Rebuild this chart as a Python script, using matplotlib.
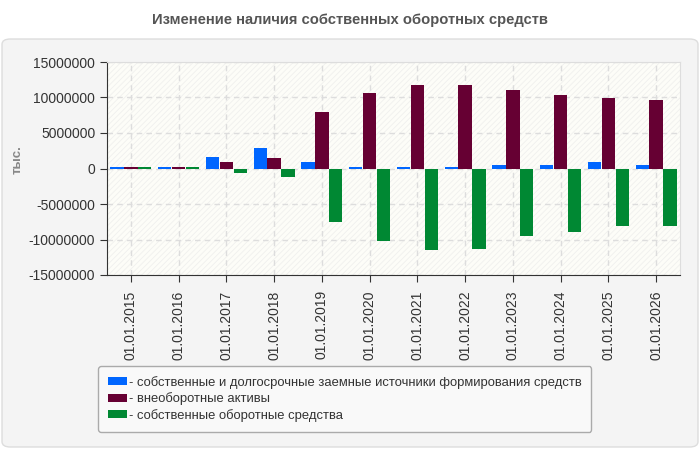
import matplotlib
matplotlib.use("Agg")
import matplotlib.pyplot as plt
import numpy as np
from matplotlib.patches import FancyBboxPatch

plt.rcParams['font.family'] = ['Liberation Sans', 'DejaVu Sans']
plt.rcParams['hatch.linewidth'] = 0.6

# данные
dates = ["01.01.2015", "01.01.2016", "01.01.2017", "01.01.2018", "01.01.2019", "01.01.2020",
         "01.01.2021", "01.01.2022", "01.01.2023", "01.01.2024", "01.01.2025", "01.01.2026"]
istochniki = [250000, 250000, 1650000, 2920000, 940000, 250000,
              250000, 250000, 520000, 520000, 940000, 520000]
vneob_aktivy = [250000, 250000, 940000, 1500000, 8000000, 10670000,
                11800000, 11800000, 11100000, 10390000, 9970000, 9680000]
sos = [250000, 250000, -660000, -1220000, -7570000, -10250000,
       -11500000, -11380000, -9540000, -8980000, -8130000, -8130000]

series_labels = ["- собственные и долгосрочные заемные источники формирования средств",
                 "- внеоборотные активы",
                 "- собственные оборотные средства"]
colors = ["#0066ff", "#660033", "#008833"]

fig = plt.figure(figsize=(7, 4.5), dpi=100)
fig.patch.set_facecolor("white")

# серая панель
panel = FancyBboxPatch((2 / 700, 3 / 450), 696 / 700, 408 / 450,
                       boxstyle="round,pad=0,rounding_size=0.012",
                       transform=fig.transFigure, facecolor="#f4f4f4",
                       edgecolor="#dddddd", linewidth=1, zorder=-10)
fig.patches.append(panel)

fig.text(0.5, 1 - 20 / 450, "Изменение наличия собственных оборотных средств",
         ha="center", va="center", fontsize=10.6, fontweight="bold", color="#555555")

ax = fig.add_axes([107 / 700, 1 - 275 / 450, 573 / 700, 213 / 450])
ax.set_facecolor("#fdfdf8")
ax.patch.set_hatch("//////")
ax.patch.set_edgecolor("#f0f0ee")
ax.patch.set_linewidth(0)

x = np.arange(len(dates))
w = 0.28
for i, (vals, c, lab) in enumerate(zip([istochniki, vneob_aktivy, sos], colors, series_labels)):
    ax.bar(x + (i - 1) * (w + 0.01), vals, width=w, color=c, label=lab, zorder=3)

ax.set_xlim(-0.5, len(dates) - 0.5)
ax.set_ylim(-15000000, 15000000)
ax.set_yticks(np.arange(-15000000, 15000001, 5000000))
ax.set_yticklabels([str(v) for v in range(-15000000, 15000001, 5000000)])
ax.set_xticks(x)
ax.set_xticklabels(dates, rotation=90)
ax.tick_params(axis="both", labelsize=10, colors="#333333", length=5)
ax.tick_params(axis="x", pad=6)

ax.grid(True, color="#dddddd", linestyle=(0, (4, 3)), linewidth=1, zorder=0)
for s in ["top", "right"]:
    ax.spines[s].set_color("#dddddd")
for s in ["left", "bottom"]:
    ax.spines[s].set_color("#333333")

fig.text(18 / 700, 1 - 160 / 450, "тыс.", rotation=90, ha="center", va="center",
         fontsize=9.5, fontweight="bold", color="#888888")

leg = ax.legend(loc="upper left", bbox_to_anchor=(98 / 700, 1 - 366 / 450),
                bbox_transform=fig.transFigure, borderaxespad=0, fontsize=9.4, frameon=True,
                handlelength=1.45, handleheight=0.6, handletextpad=0.15,
                labelspacing=0.28, borderpad=0.75)
leg.get_frame().set_facecolor("#f9f9f9")
leg.get_frame().set_edgecolor("#aaaaaa")
leg.get_frame().set_alpha(1)
for t in leg.get_texts():
    t.set_color("#333333")

fig.savefig("out.png", dpi=100)
